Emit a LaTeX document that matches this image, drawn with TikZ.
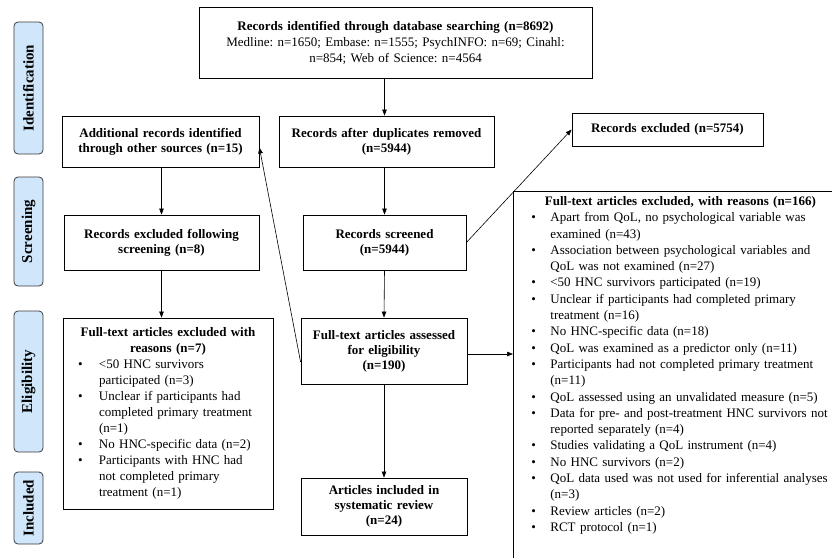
\documentclass[tikz,border=0pt]{standalone}
\usepackage{fontspec}
\setmainfont{Liberation Serif}
\usepackage{tikz}
\usetikzlibrary{
  arrows.meta,
  positioning,
  calc
}
\definecolor{phaseFill}{HTML}{D0E7FB}
\definecolor{phaseLine}{HTML}{3A3A3A}

\newlength{\lsthang}
\newlength{\lstbul}
\newcommand{\exitem}{\par\noindent\hangindent=\lsthang\hangafter=1\makebox[\lsthang][l]{\hspace{\lstbul}\textbullet}}
\frenchspacing

\begin{document}
\begin{tikzpicture}[x=1pt, y=-1pt,
    phase/.style={draw=phaseLine, fill=phaseFill, rounded corners=4pt, rotate=90,
      minimum height=29pt, line width=0.8pt, font=\fontsize{15}{17}\selectfont\bfseries},
    stagebox/.style={draw, line width=0.8pt, align=center, inner sep=2pt,
      font=\fontsize{13}{15}\selectfont\bfseries},
    listbox/.style={draw, line width=0.8pt, align=left, inner xsep=0pt,
      font=\fontsize{13}{16}\selectfont},
    arr/.style={-{Triangle[length=6pt, width=4.5pt]}, line width=0.6pt}]
  \useasboundingbox (0,0) rectangle (832,557);

  \node[phase, minimum width=132pt] (idlab) at (28.5,88) {Identification};
  \node[phase, minimum width=109pt] (scrlab) at (28.5,231.5) {Screening};
  \node[phase, minimum width=141pt] (elilab) at (28.5,381.5) {Eligibility};
  \node[phase, minimum width=72pt] (inclab) at (28.5,508) {Included};

  \node[stagebox, minimum width=393pt, minimum height=71pt, text width=385pt,
    font=\fontsize{13}{16}\selectfont] (top) at (395.5,42.5)
    {\textbf{Records identified through database searching (n=8692)}\\
     Medline: n=1650; Embase: n=1555; PsychINFO: n=69; Cinahl:\\
     n=854; Web of Science: n=4564};
  \node[stagebox, minimum width=197pt, minimum height=51pt, text width=190pt] (addl) at (160.5,141.5)
    {Additional records identified\\through other sources (n=15)};
  \node[stagebox, minimum width=215pt, minimum height=51pt, text width=208pt] (dup) at (386.5,141.5)
    {Records after duplicates removed\\(n=5944)};
  \node[stagebox, minimum width=191pt, minimum height=33pt, text width=184pt] (excl) at (667.5,129.5)
    {Records excluded (n=5754)};
  \node[stagebox, minimum width=195pt, minimum height=55pt, text width=188pt] (scrx) at (161.5,242.5)
    {Records excluded following\\screening (n=8)};
  \node[stagebox, minimum width=163pt, minimum height=55pt, text width=156pt] (scr) at (384.5,242.5)
    {Records screened\\(n=5944)};
  \node[stagebox, minimum width=166pt, minimum height=66pt, text width=159pt] (fta) at (384,351)
    {Full-text articles assessed\\for eligibility\\(n=190)};
  \node[stagebox, minimum width=166pt, minimum height=57pt, text width=159pt] (inc) at (384,506.5)
    {Articles included in\\systematic review\\(n=24)};

  \node[listbox, minimum height=191pt, text width=210pt] (ftx) at (168,413.5)
    {\setlength{\lsthang}{36pt}\setlength{\lstbul}{15pt}%
     {\centering\bfseries Full-text articles excluded with\\reasons (n=7)\par}
     \exitem <50 HNC survivors\newline participated (n=3)
     \exitem Unclear if participants had\newline completed primary treatment\newline (n=1)
     \exitem No HNC-specific data (n=2)
     \exitem Participants with HNC had\newline not completed primary\newline treatment (n=1)\par};

  \node[listbox, anchor=north west, inner ysep=5pt, text width=334pt,
    font=\fontsize{13}{16.3}\selectfont] (ftr) at (513,191)
    {\setlength{\lsthang}{37pt}\setlength{\lstbul}{18pt}%
     {\centering\bfseries Full-text articles excluded, with reasons (n=166)\par}
     \exitem Apart from QoL, no psychological variable was\newline examined (n=43)
     \exitem Association between psychological variables and\newline QoL was not examined (n=27)
     \exitem <50 HNC survivors participated (n=19)
     \exitem Unclear if participants had completed primary\newline treatment (n=16)
     \exitem No HNC-specific data (n=18)
     \exitem QoL was examined as a predictor only (n=11)
     \exitem Participants had not completed primary treatment\newline (n=11)
     \exitem QoL assessed using an unvalidated measure (n=5)
     \exitem Data for pre- and post-treatment HNC survivors not\newline reported separately (n=4)
     \exitem Studies validating a QoL instrument (n=4)
     \exitem No HNC survivors (n=2)
     \exitem QoL data used was not used for inferential analyses\newline (n=3)
     \exitem Review articles (n=2)
     \exitem RCT protocol (n=1)\par\noindent\rule{0pt}{40pt}};

  \draw[arr] (top.south -| scr) -- (dup.north -| scr);
  \draw[arr] (dup.south -| scr) -- (scr.north);
  \draw[arr] (scr.south) -- (fta.north);
  \draw[arr] (fta.south) -- (inc.north);
  \draw[arr] (addl.south -| scrx) -- (scrx.north);
  \draw[arr] (scrx.south) -- (scrx.south |- ftx.north);
  \draw[arr] (scr.east) -- (excl.west);
  \draw[arr] ([yshift=-3pt]fta.east) -- ([yshift=-3pt]fta.east -| ftr.west);
  \draw[arr] ([yshift=-11pt]fta.west) -- ([yshift=-6pt]addl.east);
\end{tikzpicture}
\end{document}
